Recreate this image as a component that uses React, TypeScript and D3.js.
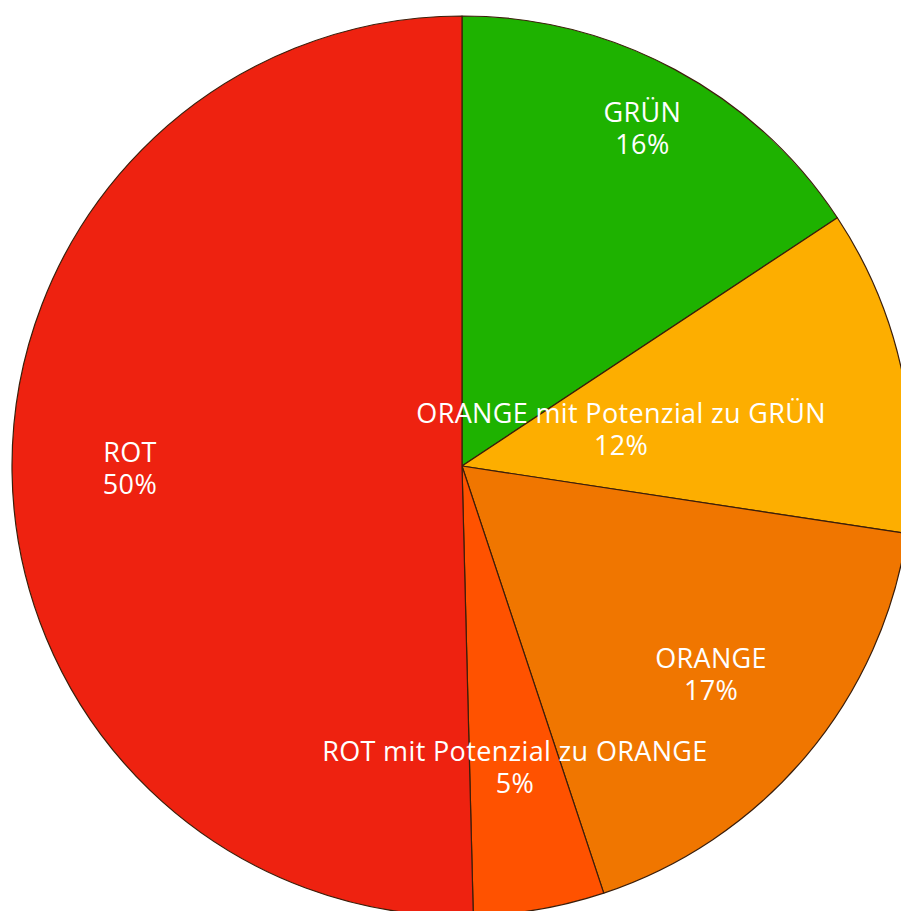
// Ampel-Verteilung als Kreisdiagramm — fünf Kategorien, Start oben, im Uhrzeigersinn.
import * as d3 from "d3";

const labels = ["GRÜN", "ORANGE mit Potenzial zu GRÜN", "ORANGE", "ROT mit Potenzial zu ORANGE", "ROT"];
const shares = [15.7, 11.7, 17.5, 4.7, 50.4];
const pctLabels = ["16%", "12%", "17%", "5%", "50%"];
const colors = ["#1eb200", "#fdae00", "#f07600", "#ff5200", "#ee2210"];
// label distance from centre as a fraction of the radius (Excel "best fit")
const labelPos = [0.847, 0.362, 0.724, 0.684, 0.738];

const W = 901, H = 911;
const CX = 462, CY = 466, R = 450;

export default function App() {
  const idx = d3.range(labels.length);
  const arcs = d3.pie<number>().value((i) => shares[i]).sort(null)(idx);
  const arc = d3.arc<d3.PieArcDatum<number>>().innerRadius(0).outerRadius(R);

  return (
    <svg width={W} height={H} style={{ position: "fixed", left: 0, top: 0, background: "#fff" }}
         fontFamily="'Open Sans', sans-serif">
      <g transform={`translate(${CX},${CY})`}>
        {arcs.map((a) => (
          <path key={labels[a.data]} d={arc(a) ?? ""} fill={colors[a.data]}
                stroke="#3b1e0a" strokeWidth={1.2} strokeLinejoin="round" />
        ))}
        {arcs.map((a) => {
          const r = R * labelPos[a.data];
          const [x, y] = d3.arc<d3.PieArcDatum<number>>().innerRadius(r).outerRadius(r).centroid(a);
          return (
            <g key={labels[a.data]} fill="#fff" fontSize={27} textAnchor="middle" letterSpacing={0.35}>
              <text x={x} y={y - 8}>{labels[a.data]}</text>
              <text x={x} y={y + 24}>{pctLabels[a.data]}</text>
            </g>
          );
        })}
      </g>
    </svg>
  );
}
